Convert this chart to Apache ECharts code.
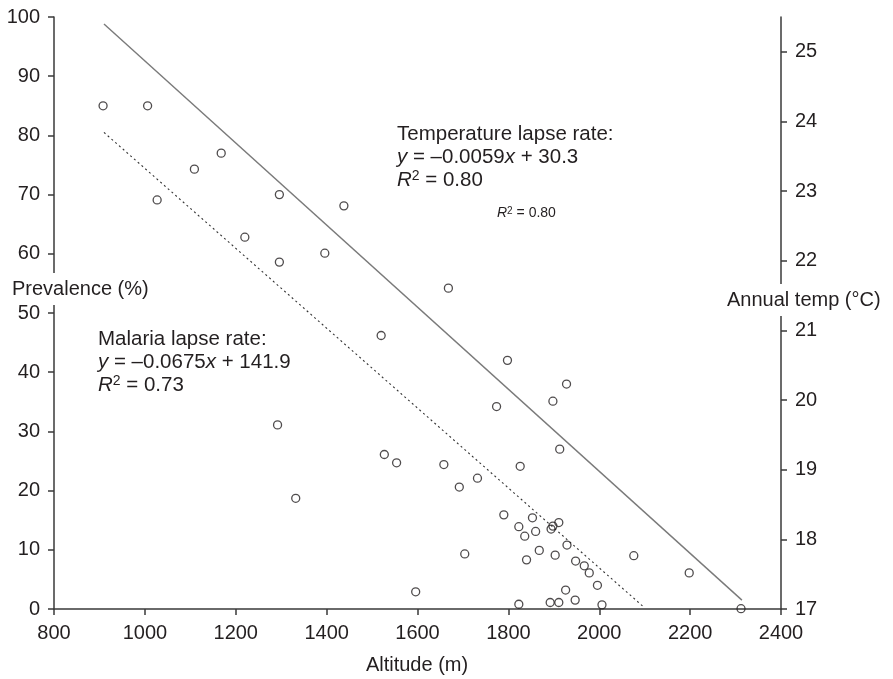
<!DOCTYPE html>
<html><head><meta charset="utf-8">
<script src="https://cdn.jsdelivr.net/npm/echarts@6/dist/echarts.min.js"></script>
<style>html,body{margin:0;padding:0;background:#fff}#c{width:893px;height:679px}</style>
</head><body><div id="c"></div>
<script>
// ---- data ----
const altitude = [908,1006,1168,1109,1027,1296,1220,1396,1296,1292,1438,1668,1520,1774,1527,1554,1658,1732,1692,1704,1596,1332,1798,1928,1898,1913,1826,1790,1853,1911,1898,1894,1823,1860,1836,1929,1868,1903,2076,1840,1948,1967,1978,2198,1996,1926,1947,1823,1892,1911,2006,2312];
const prevalence = [85.0,85.0,77.0,74.3,69.1,70.0,62.8,60.1,58.6,31.1,68.1,54.2,46.2,34.2,26.1,24.7,24.4,22.1,20.6,9.3,2.9,18.7,42.0,38.0,35.1,27.0,24.1,15.9,15.4,14.6,14.0,13.5,13.9,13.1,12.3,10.8,9.9,9.1,9.0,8.3,8.1,7.3,6.1,6.1,4.0,3.2,1.5,0.8,1.1,1.1,0.7,0.05];
const tempFitX = [910, 2314];
const tempFitY = [98.8, 1.5];
const malariaFitX = [910, 2100];
const malariaFitY = [80.5, 0.2];
const tempTicks = [17,18,19,20,21,22,23,24,25];

const FONT = '"Liberation Sans", Arial, Helvetica, sans-serif';
const INK = '#231f20';
const AX = '#3a3a3a';

const scatterData = altitude.map((a, i) => [a, prevalence[i]]);
const tempFit = tempFitX.map((a, i) => [a, tempFitY[i]]);
const malariaFit = malariaFitX.map((a, i) => [a, malariaFitY[i]]);

const axisLineCommon = {show: true, lineStyle: {color: AX, width: 1.5}};
const axisTickCommon = {show: true, inside: false, length: 6, lineStyle: {color: AX, width: 1.5}};
const axisLabelCommon = {color: INK, fontSize: 20, fontFamily: FONT, margin: 14, formatter: v => String(v)};

const chart = echarts.init(document.getElementById('c'), null, {renderer: 'canvas'});
const richBase = {
  i: {fontStyle: 'italic', fontSize: 20.5, fontFamily: FONT, fill: INK, lineHeight: 23},
  s: {fontSize: 14, fontFamily: FONT, fill: INK, verticalAlign: 'top', lineHeight: 14}
};
const richSmall = {
  i: {fontStyle: 'italic', fontSize: 14, fontFamily: FONT, fill: INK},
  s: {fontSize: 10, fontFamily: FONT, fill: INK, verticalAlign: 'top', lineHeight: 10}
};

chart.setOption({
  animation: false,
  backgroundColor: '#fff',
  grid: {left: 54, right: 112, top: 17, bottom: 70, containLabel: false},
  xAxis: {
    type: 'value', min: 800, max: 2400, interval: 200,
    axisLine: axisLineCommon, axisTick: axisTickCommon, axisLabel: axisLabelCommon,
    splitLine: {show: false}
  },
  yAxis: [
    {
      type: 'value', position: 'left', min: 0, max: 100, interval: 10,
      axisLine: axisLineCommon, axisTick: axisTickCommon, axisLabel: axisLabelCommon,
      splitLine: {show: false}
    },
    {
      type: 'value', position: 'right', min: 17, max: 25.5, alignTicks: false,
      axisLine: axisLineCommon,
      axisTick: Object.assign({}, axisTickCommon, {customValues: tempTicks}),
      axisLabel: Object.assign({}, axisLabelCommon, {customValues: tempTicks}),
      splitLine: {show: false}
    }
  ],
  series: [
    {
      type: 'line', data: tempFit, showSymbol: false, silent: true, z: 2,
      lineStyle: {color: '#7a7a7a', width: 1.4}
    },
    {
      type: 'line', data: malariaFit, showSymbol: false, silent: true, z: 2,
      lineStyle: {color: '#333', width: 1.1, type: [2, 3]}
    },
    {
      type: 'scatter', data: scatterData, symbol: 'circle', symbolSize: 8, clip: false, z: 3,
      itemStyle: {color: 'rgba(0,0,0,0)', borderColor: INK, borderWidth: 1.3}
    }
  ],
  graphic: [
    {type: 'text', x: 12, y: 289, z: 100, style: {
      text: 'Prevalence (%)', fontSize: 20, fontFamily: FONT, fill: INK,
      align: 'left', verticalAlign: 'middle', lineHeight: 20,
      backgroundColor: '#fff', padding: [6, 2, 6, 0]}},
    {type: 'text', x: 725, y: 300, z: 100, style: {
      text: 'Annual temp (°C)', fontSize: 20, fontFamily: FONT, fill: INK,
      align: 'left', verticalAlign: 'middle', lineHeight: 20,
      backgroundColor: '#fff', padding: [6, 2, 6, 2]}},
    {type: 'text', x: 417, y: 665, z: 100, style: {
      text: 'Altitude (m)', fontSize: 20, fontFamily: FONT, fill: INK,
      align: 'center', verticalAlign: 'middle'}},
    {type: 'text', x: 397, y: 123, z: 100, style: {
      text: 'Temperature lapse rate:\n{i|y} = –0.0059{i|x} + 30.3\n{i|R}{s|2} = 0.80',
      fontSize: 20.5, fontFamily: FONT, fill: INK, lineHeight: 23,
      align: 'left', verticalAlign: 'top', rich: richBase}},
    {type: 'text', x: 497, y: 213, z: 100, style: {
      text: '{i|R}{s|2} = 0.80', fontSize: 14, fontFamily: FONT, fill: INK,
      align: 'left', verticalAlign: 'middle', rich: richSmall}},
    {type: 'text', x: 98, y: 328, z: 100, style: {
      text: 'Malaria lapse rate:\n{i|y} = –0.0675{i|x} + 141.9\n{i|R}{s|2} = 0.73',
      fontSize: 20.5, fontFamily: FONT, fill: INK, lineHeight: 23,
      align: 'left', verticalAlign: 'top', rich: richBase}}
  ]
});
</script>
</body></html>
